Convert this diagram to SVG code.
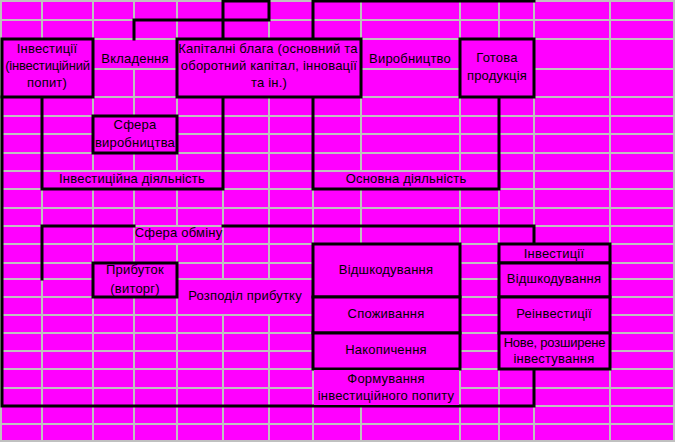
<svg xmlns="http://www.w3.org/2000/svg" width="675" height="442" viewBox="0 0 675 442">
<style>
.g{stroke:#c0c0c0;stroke-width:2;fill:none}
.c{fill:#ff00ff;stroke:none}
.b{fill:#ff00ff;stroke:#000;stroke-width:3}
.k{fill:none;stroke:#000;stroke-width:3;stroke-linecap:square}
text{font-family:"Liberation Sans",Arial,sans-serif;font-size:13px;letter-spacing:0.2px;fill:#000;text-anchor:middle}
text.n{letter-spacing:-0.2px}
</style>
<rect width="675" height="442" fill="#ff00ff"/>
<g id="grid">
<path class="g" d="M1 0V442M42 0V442M93 0V442M134 0V442M177 0V442M223 0V442M269 0V442M313 0V442M361 0V442M460 0V442M499 0V442M534 0V442M610 0V442M674 0V442"/>
<path class="g" d="M0 1H675M0 20H675M0 39H675M0 69H675M0 97H675M0 116H675M0 134H675M0 153H675M0 171H675M0 189H675M0 208H675M0 226H675M0 244H675M0 263H675M0 279H675M0 297H675M0 315H675M0 333H675M0 351H675M0 369H675M0 388H675M0 406H675M0 424H675M0 441H675"/>
<rect class="c" x="94" y="40" width="82" height="28"/>
<rect class="c" x="362" y="40" width="97" height="28"/>
<rect class="c" x="43" y="172" width="179" height="16"/>
<rect class="c" x="314" y="172" width="184" height="16"/>
<rect class="c" x="135" y="227" width="87" height="16"/>
<rect class="c" x="178" y="280" width="134" height="34"/>
</g>
<g id="connectors">
<polyline class="k" points="223,39 223,1 269,1 269,20 134,20 134,39"/>
<polyline class="k" points="313,39 313,1 534,1"/>
<polyline class="k" points="42,97 42,189 223,189 223,97"/>
<polyline class="k" points="313,97 313,189 499,189 499,97"/>
<polyline class="k" points="2,97 2,406 534,406 534,369"/>
<polyline class="k" points="42,279 42,226 134,226"/>
<polyline class="k" points="223,226 534,226 534,244"/>
</g>
<g id="investytsii">
<rect class="b" x="2" y="39" width="91" height="58"/>
<text x="47" y="53">Інвестиції</text>
<text class="n" x="47.5" y="70">(інвестиційний</text>
<text x="47" y="87">попит)</text>
</g>
<g id="vkladennia"><text x="135" y="63">Вкладення</text></g>
<g id="kapitalni">
<rect class="b" x="177" y="39" width="184" height="58"/>
<text x="268" y="53">Капіталні блага (основний та</text>
<text x="269" y="70">оборотний капітал, інновації</text>
<text x="269" y="87">та ін.)</text>
</g>
<g id="vyrobnytstvo"><text x="410" y="63">Виробництво</text></g>
<g id="gotova">
<rect class="b" x="460" y="39" width="74" height="58"/>
<text x="497" y="62">Готова</text>
<text x="497" y="80">продукція</text>
</g>
<g id="sfera-vyrobnytstva">
<rect class="b" x="93" y="116" width="84" height="37"/>
<text x="135" y="129">Сфера</text>
<text x="135" y="147">виробництва</text>
</g>
<g id="investytsiina-diialnist"><text x="132" y="183">Інвестиційна діяльність</text></g>
<g id="osnovna-diialnist"><text x="406" y="183">Основна діяльність</text></g>
<g id="sfera-obminu"><text x="178.5" y="237">Сфера обміну</text></g>
<g id="prybutok">
<rect class="b" x="93" y="263" width="84" height="34"/>
<text x="135" y="274">Прибуток</text>
<text x="135" y="293">(виторг)</text>
</g>
<g id="rozpodil"><text x="245" y="300">Розподіл прибутку</text></g>
<g id="rozpodil-stack">
<rect class="b" x="313" y="244" width="147" height="53"/>
<text x="386" y="274">Відшкодування</text>
<rect class="b" x="313" y="297" width="147" height="36"/>
<text x="386" y="318">Споживання</text>
<rect class="b" x="313" y="333" width="147" height="36"/>
<text x="386" y="354">Накопичення</text>
<rect class="c" x="314" y="370" width="145" height="35"/>
<text x="386" y="383">Формування</text>
<text x="386" y="400">інвестиційного попиту</text>
</g>
<g id="investytsii-stack">
<rect class="b" x="499" y="244" width="111" height="19"/>
<text x="554" y="258">Інвестиції</text>
<rect class="b" x="499" y="263" width="111" height="34"/>
<text x="554" y="283">Відшкодування</text>
<rect class="b" x="499" y="297" width="111" height="36"/>
<text x="554" y="318">Реінвестиції</text>
<rect class="b" x="499" y="333" width="111" height="36"/>
<text class="n" x="554.5" y="347">Нове, розширене</text>
<text x="554" y="363">інвестування</text>
</g>
</svg>
